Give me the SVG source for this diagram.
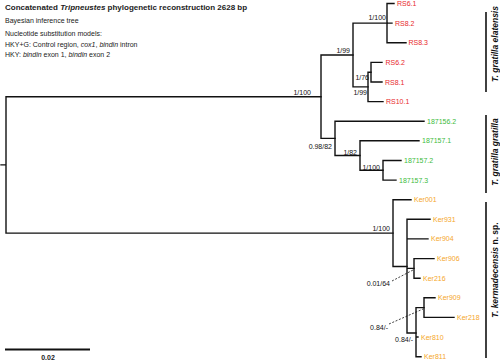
<svg xmlns="http://www.w3.org/2000/svg" width="500" height="362" viewBox="0 0 500 362">
<style>
text{font-family:"Liberation Sans",Arial,sans-serif;}
.hd{font-size:7px;fill:#222;}
.ttl{font-size:8px;font-weight:bold;fill:#222;}
.br{fill:none;stroke:#111;stroke-width:1.4;stroke-linecap:square;}
.dash{fill:none;stroke:#111;stroke-width:0.8;stroke-dasharray:2,1.6;}
.sup{font-size:7px;fill:#111;text-anchor:end;}
.lf{font-size:7px;}
.rs{fill:#e8282a;}
.gr{fill:#3dbb3d;}
.kr{fill:#f5a62a;}
.bar{stroke:#111;stroke-width:1.6;}
.cl{font-size:8.5px;font-weight:bold;fill:#111;text-anchor:middle;}
</style>
<g id="header">
<text class="ttl" x="5" y="10">Concatenated <tspan font-style="italic">Tripneustes</tspan> phylogenetic reconstruction 2628 bp</text>
<text class="hd" x="5" y="23">Bayesian inference tree</text>
<text class="hd" x="5" y="36">Nucleotide substitution models:</text>
<text class="hd" x="5" y="46.5">HKY+G: Control region, <tspan font-style="italic">cox1</tspan>, <tspan font-style="italic">bindin</tspan> intron</text>
<text class="hd" x="5" y="56.5">HKY: <tspan font-style="italic">bindin</tspan> exon 1, <tspan font-style="italic">bindin</tspan> exon 2</text>
</g>
<g id="connectors">
<path class="br" d="M6,96.7V233.1M1,164.9H6M6,96.7H321M6,233.1H393"/>
<path class="br" d="M321,55V138.4M321,55H353M321,138.4H335"/>
<path class="br" d="M353,23.1V86.9M353,23.1H387M353,86.9H368"/>
<path class="br" d="M387,3.5V42.7M387,3.5H394M387,23.1H392M387,42.7H406"/>
<path class="br" d="M368,72.2V101.6M368,72.2H371M368,101.6H383"/>
<path class="br" d="M371,62.4V82M371,62.4H382M371,82H382"/>
<path class="br" d="M335,121.2V155.5M335,121.2H424M335,155.5H360"/>
<path class="br" d="M360,140.8V170.3M360,140.8H419M360,170.3H383"/>
<path class="br" d="M383,160.5V180.1M383,160.5H401M383,180.1H396"/>
<path class="br" d="M393,199.7V266.5M393,199.7H411M393,266.5H407"/>
<path class="br" d="M407,219.3V333M407,219.3H430M407,238.9H428M407,268.4H414M407,333H416"/>
<path class="br" d="M414,258.6V278.2M414,258.6H434M414,278.2H420"/>
<path class="br" d="M416,307.6V356.7M416,307.6H424M416,337H418M416,356.7H421"/>
<path class="br" d="M424,297.8V317.4M424,297.8H435M424,317.4H454"/>
<path class="dash" d="M392,281L413,270"/>
<path class="dash" d="M389,324L423,309"/>
</g>
<g id="support">
<text id="s-n1" class="sup" x="311" y="95">1/100</text>
<text id="s-a" class="sup" x="350" y="53">1/99</text>
<text id="s-b" class="sup" x="386" y="20">1/100</text>
<text id="s-d" class="sup" x="369" y="80">1/76</text>
<text id="s-c" class="sup" x="367" y="95">1/99</text>
<text id="s-e" class="sup" x="332" y="148.5">0.98/82</text>
<text id="s-f" class="sup" x="357" y="155">1/82</text>
<text id="s-g" class="sup" x="380" y="169.5">1/100</text>
<text id="s-h" class="sup" x="390" y="230.5">1/100</text>
<text id="s-j" class="sup" x="390" y="285.5">0.01/64</text>
<text id="s-k" class="sup" x="388" y="329.5">0.84/-</text>
<text id="s-l" class="sup" x="413" y="341.5">0.84/-</text>
</g>
<g id="leaves" class="lf">
<g id="RS6.1"><text class="rs" x="397" y="6">RS6.1</text></g>
<g id="RS8.2"><text class="rs" x="395" y="25.6">RS8.2</text></g>
<g id="RS8.3"><text class="rs" x="408.5" y="45.2">RS8.3</text></g>
<g id="RS6.2"><text class="rs" x="385.5" y="64.9">RS6.2</text></g>
<g id="RS8.1"><text class="rs" x="385" y="84.5">RS8.1</text></g>
<g id="RS10.1"><text class="rs" x="386" y="104.1">RS10.1</text></g>
<g id="l187156.2"><text class="gr" x="427" y="123.7">187156.2</text></g>
<g id="l187157.1"><text class="gr" x="422" y="143.3">187157.1</text></g>
<g id="l187157.2"><text class="gr" x="404" y="163">187157.2</text></g>
<g id="l187157.3"><text class="gr" x="399" y="182.6">187157.3</text></g>
<g id="Ker001"><text class="kr" x="414" y="202.2">Ker001</text></g>
<g id="Ker931"><text class="kr" x="433" y="221.8">Ker931</text></g>
<g id="Ker904"><text class="kr" x="431" y="241.4">Ker904</text></g>
<g id="Ker906"><text class="kr" x="437" y="261.1">Ker906</text></g>
<g id="Ker216"><text class="kr" x="423" y="280.7">Ker216</text></g>
<g id="Ker909"><text class="kr" x="438" y="300.3">Ker909</text></g>
<g id="Ker218"><text class="kr" x="457" y="319.9">Ker218</text></g>
<g id="Ker810"><text class="kr" x="421" y="339.5">Ker810</text></g>
<g id="Ker811"><text class="kr" x="424" y="359.2">Ker811</text></g>
</g>
<g id="clade-elatensis">
<line class="bar" x1="486" y1="12" x2="486" y2="92"/>
<text class="cl" transform="translate(498,44) rotate(-90)"><tspan font-style="italic">T. gratilla elatensis</tspan></text>
</g>
<g id="clade-gratilla">
<line class="bar" x1="486" y1="115" x2="486" y2="193"/>
<text class="cl" transform="translate(498,152) rotate(-90)"><tspan font-style="italic">T. gratilla gratilla</tspan></text>
</g>
<g id="clade-kermadecensis">
<line class="bar" x1="486" y1="202" x2="486" y2="358"/>
<text class="cl" font-size="9.5" transform="translate(498,270) rotate(-90)"><tspan font-style="italic">T. kermadecensis</tspan> n. sp.</text>
</g>
<g id="scale">
<line x1="5" y1="349.5" x2="90" y2="349.5" stroke="#111" stroke-width="2"/>
<text x="48" y="359.5" font-size="7" font-weight="bold" fill="#222" text-anchor="middle">0.02</text>
</g>
</svg>
